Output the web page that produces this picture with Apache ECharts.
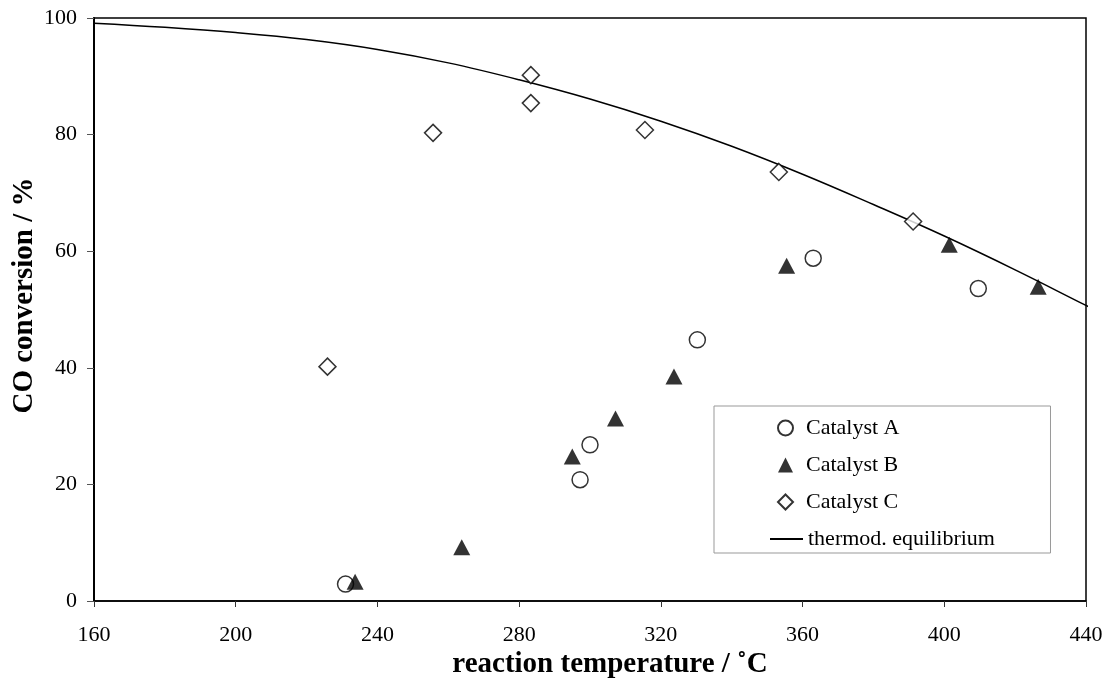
<!DOCTYPE html>
<html>
<head>
<meta charset="utf-8">
<script src="https://cdn.jsdelivr.net/npm/echarts@6/dist/echarts.min.js"></script>
<style>
  html, body { margin: 0; padding: 0; background: #fff; }
  #chart { width: 1109px; height: 691px; }
</style>
</head>
<body>
<div id="chart"></div>
<script>
// values: [temperature °C, CO conversion %]
var catalystA = [[231, 2.9], [297.2, 20.8], [300, 26.8], [330.3, 44.8], [363, 58.8], [409.6, 53.6]];
var catalystB = [[233.7, 3.3], [263.8, 9.2], [295, 24.8], [307.2, 31.3], [323.7, 38.5], [355.5, 57.5], [401.4, 61.1], [426.5, 53.9]];
var catalystC = [[225.9, 40.2], [255.7, 80.3], [283.3, 90.2], [283.3, 85.4], [315.5, 80.8], [353.3, 73.6], [391.2, 65.1]];
var equilibrium = [[160, 99.1], [180, 98.4], [200, 97.5], [220, 96.3], [240, 94.6], [260, 92.3], [280, 89.4],
  [300, 86.1], [320, 82.3], [340, 78.0], [360, 73.2], [380, 68.0], [400, 62.6], [420, 56.8], [440, 50.7], [443, 49.8]];

var font = '"Liberation Serif", "DejaVu Serif", serif';

var chart = echarts.init(document.getElementById('chart'));

chart.setOption({
  backgroundColor: '#fff',
  animation: false,
  grid: {
    left: 94, right: 23, top: 18, bottom: 90,
    containLabel: false, outerBoundsMode: 'none',
    show: true, borderColor: '#000', borderWidth: 1.5
  },
  legend: [
    {
      // markers, box drawn around the whole legend
      orient: 'vertical',
      left: 714, top: 406,
      padding: [11, 151, 40, 63],
      itemWidth: 15, itemHeight: 15, itemGap: 15,
      backgroundColor: '#fff',
      borderColor: '#999', borderWidth: 1, borderRadius: 0,
      textStyle: { fontFamily: font, fontSize: 22, lineHeight: 22, color: '#000', padding: [0, 0, 0, 8] },
      data: ['Catalyst A', 'Catalyst B', 'Catalyst C']
    },
    {
      left: 770, top: 528, padding: 0, z: 10,
      itemWidth: 33, itemHeight: 2,
      textStyle: { fontFamily: font, fontSize: 22, lineHeight: 22, color: '#000' },
      data: [{ name: 'thermod. equilibrium', icon: 'rect' }]
    }
  ],
  xAxis: {
    type: 'value', min: 160, max: 440, interval: 40,
    name: 'reaction temperature / ˚C',
    nameLocation: 'middle', nameGap: 49, nameMoveOverlap: false,
    nameTextStyle: { fontFamily: font, fontSize: 29, fontWeight: 'bold', color: '#000', padding: [0, 0, 0, 40] },
    axisLine: { lineStyle: { color: '#000', width: 1.5 } },
    axisTick: { show: true, inside: false, length: 6, lineStyle: { color: '#333' } },
    axisLabel: { fontFamily: font, fontSize: 22, color: '#000', margin: 23 },
    splitLine: { show: false }
  },
  yAxis: {
    type: 'value', min: 0, max: 100, interval: 20,
    name: 'CO conversion / %',
    nameLocation: 'middle', nameGap: 55, nameMoveOverlap: false,
    nameTextStyle: { fontFamily: font, fontSize: 29, fontWeight: 'bold', color: '#000', padding: [0, 0, 0, 28] },
    axisLine: { show: true, lineStyle: { color: '#000', width: 2 } },
    axisTick: { show: true, inside: false, length: 7, lineStyle: { color: '#555' } },
    axisLabel: { fontFamily: font, fontSize: 22, color: '#000', margin: 17 },
    splitLine: { show: false }
  },
  series: [
    {
      name: 'thermod. equilibrium', type: 'line', data: equilibrium,
      smooth: 0.4, showSymbol: false, symbol: 'none', clip: false,
      lineStyle: { color: '#000', width: 1.5 }, itemStyle: { color: '#000' }, z: 1
    },
    {
      name: 'Catalyst A', type: 'scatter', data: catalystA,
      symbol: 'circle', symbolSize: 16,
      itemStyle: { color: '#fff', borderColor: '#000', borderWidth: 1.5 }, z: 3
    },
    {
      name: 'Catalyst B', type: 'scatter', data: catalystB,
      symbol: 'triangle', symbolSize: [17, 16],
      itemStyle: { color: '#000', borderColor: '#000', borderWidth: 0 }, z: 3
    },
    {
      name: 'Catalyst C', type: 'scatter', data: catalystC,
      symbol: 'diamond', symbolSize: [17, 17],
      itemStyle: { color: '#fff', borderColor: '#000', borderWidth: 1.5 }, z: 3
    }
  ]
});
</script>
</body>
</html>
